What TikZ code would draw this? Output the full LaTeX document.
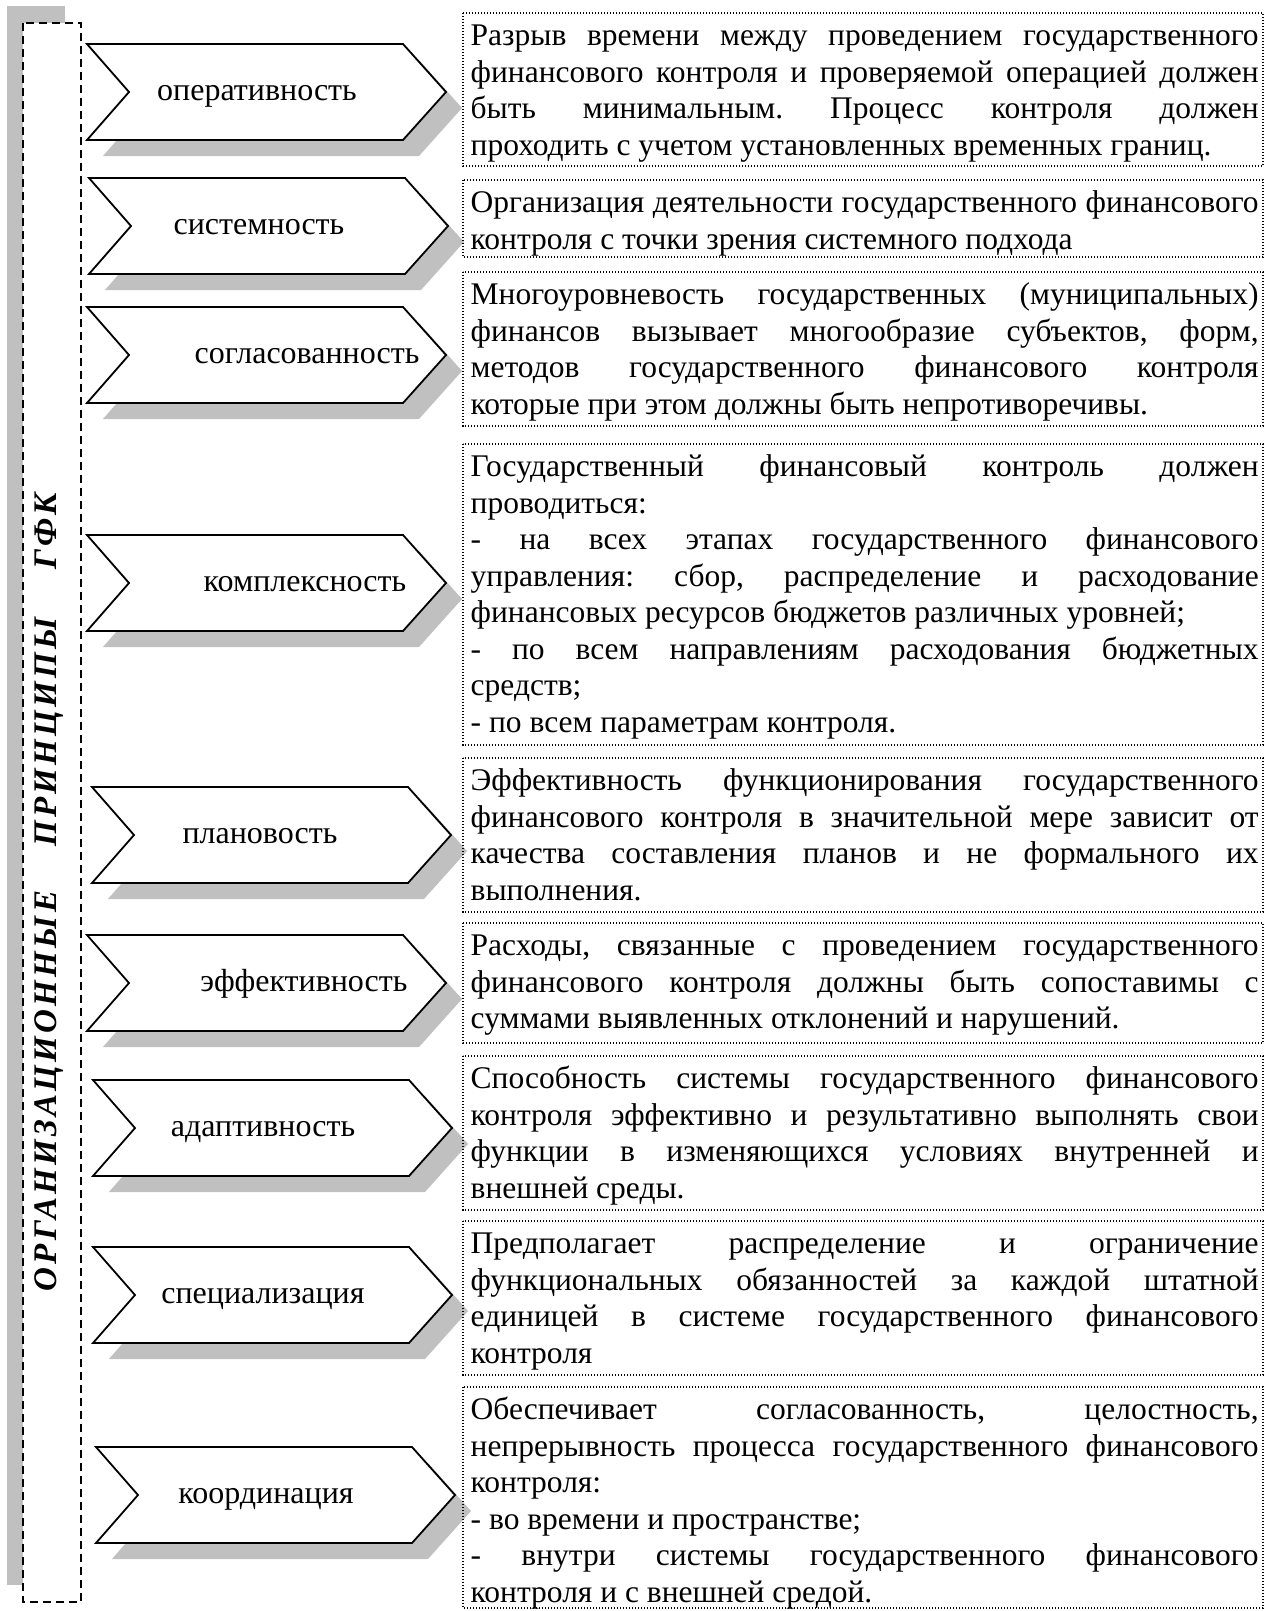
\documentclass[tikz,border=0pt]{standalone}
\usepackage{fontspec}
\setmainfont{Liberation Serif}
\definecolor{shadowgray}{HTML}{C0C0C0}
\newcommand\jl[1]{\makebox[788pt][s]{#1}}
\newcommand\resetsp{\spaceskip=0pt\relax\xspaceskip=0pt\relax\frenchspacing}
\newcommand\chevron[5]{%
  \begin{scope}[shift={(16,16)}]
    \fill[chevshadow] (#2,#3-48) -- (#2+316,#3-48) -- (#2+359,#3) -- (#2+316,#3+48) -- (#2,#3+48) -- (#2+42,#3) -- cycle;
  \end{scope}
  \draw[chev] (#2,#3-48) -- (#2+316,#3-48) -- (#2+359,#3) -- (#2+316,#3+48) -- (#2,#3+48) -- (#2+42,#3) -- cycle;
  \node[lab] (#1) at (#4,#3+8) {#5};
}
\newcommand\tbox[4]{%
  \draw[boxframe] (463,#2) rectangle (1263,#3);
  \node[boxtext] (#1) at (470.5,#2+7) {\resetsp\strut#4};
}
\begin{document}
\begin{tikzpicture}[
  x=1pt, y=-1pt,
  chev/.style={draw=black, line width=1.8pt, fill=white, line join=miter},
  chevshadow/.style={fill=shadowgray, draw=none},
  lab/.style={font=\fontsize{32}{36}\selectfont, inner sep=0pt, anchor=base},
  boxframe/.style={draw=black, line width=1.1pt, dash pattern=on 1.1pt off 1.9pt},
  boxtext/.style={font=\fontsize{31.5}{36.5}\selectfont, text width=788pt, align=left, inner sep=0pt, anchor=north west},
  titlestyle/.style={font=\fontsize{33}{36}\selectfont\bfseries\itshape\addfontfeature{LetterSpace=10}, inner sep=0pt, anchor=base, rotate=90},
  barshadow/.style={fill=shadowgray, draw=none},
  barframe/.style={draw=black, fill=white, line width=1.8pt, dash pattern=on 8pt off 5pt}
]
\useasboundingbox[fill=white] (0,0) rectangle (1276,1611);

% left vertical bar
\fill[barshadow] (7,6) rectangle (65,1585);
\draw[barframe] (23,23) rectangle (81,1602);
\node[titlestyle] (title) at (56,892) {ОРГАНИЗАЦИОННЫЕ\hspace{44pt}ПРИНЦИПЫ\hspace{48pt}ГФК};

% chevrons
\chevron{c1}{87}{92}{257}{оперативность}
\chevron{c2}{89}{226}{259}{системность}
\chevron{c3}{87}{355}{307}{согласованность}
\chevron{c4}{87}{583}{305}{комплексность}
\chevron{c5}{92}{835}{260}{плановость}
\chevron{c6}{87}{983}{304}{эффективность}
\chevron{c7}{93}{1128}{263}{адаптивность}
\chevron{c8}{93}{1295}{263}{специализация}
\chevron{c9}{96}{1495}{266}{координация}

% text boxes
\tbox{t1}{13}{166}{\jl{Разрыв времени между проведением государственного}\\
\jl{финансового контроля и проверяемой операцией должен}\\
\jl{быть минимальным. Процесс контроля должен}\\
проходить с учетом установленных временных границ.}

\tbox{t2}{180}{257}{\jl{Организация деятельности государственного финансового}\\
контроля с точки зрения системного подхода}

\tbox{t3}{272}{426}{\jl{Многоуровневость государственных (муниципальных)}\\
\jl{финансов вызывает многообразие субъектов, форм,}\\
\jl{методов государственного финансового контроля}\\
которые при этом должны быть непротиворечивы.}

\tbox{t4}{444}{745}{\jl{Государственный финансовый контроль должен}\\
проводиться:\\
\jl{- на всех этапах государственного финансового}\\
\jl{управления: сбор, распределение и расходование}\\
финансовых ресурсов бюджетов различных уровней;\\
\jl{- по всем направлениям расходования бюджетных}\\
средств;\\
- по всем параметрам контроля.}

\tbox{t5}{758}{912}{\jl{Эффективность функционирования государственного}\\
\jl{финансового контроля в значительной мере зависит от}\\
\jl{качества составления планов и не формального их}\\
выполнения.}

\tbox{t6}{923}{1043}{\jl{Расходы, связанные с проведением государственного}\\
\jl{финансового контроля должны быть сопоставимы с}\\
суммами выявленных отклонений и нарушений.}

\tbox{t7}{1056}{1210}{\jl{Способность системы государственного финансового}\\
\jl{контроля эффективно и результативно выполнять свои}\\
\jl{функции в изменяющихся условиях внутренней и}\\
внешней среды.}

\tbox{t8}{1221}{1375}{\jl{Предполагает распределение и ограничение}\\
\jl{функциональных обязанностей за каждой штатной}\\
\jl{единицей в системе государственного финансового}\\
контроля}

\tbox{t9}{1387}{1608}{\jl{Обеспечивает согласованность, целостность,}\\
\jl{непрерывность процесса государственного финансового}\\
контроля:\\
- во времени и пространстве;\\
\jl{- внутри системы государственного финансового}\\
контроля и с внешней средой.}
\end{tikzpicture}
\end{document}
